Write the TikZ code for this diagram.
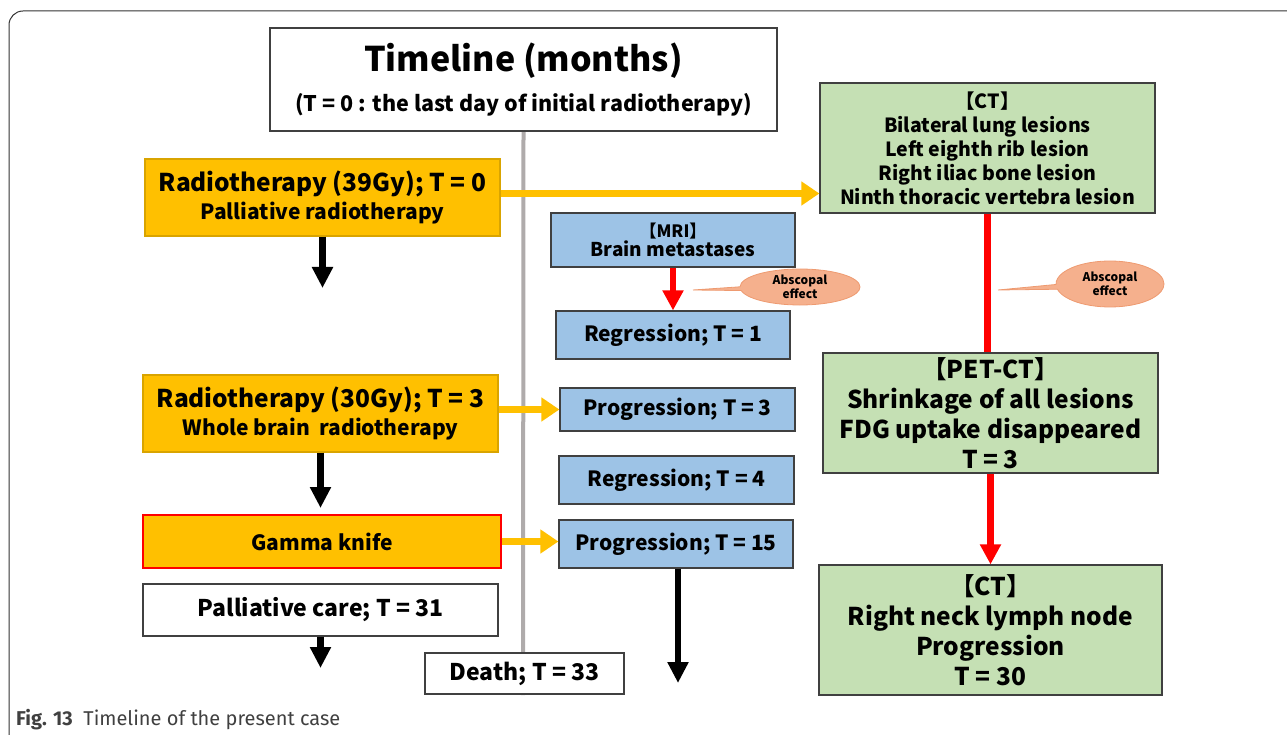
\documentclass[tikz,border=0pt]{standalone}
\usepackage{fontspec}
\setmainfont{Noto Sans CJK JP}
\newfontfamily\capfont{Fira Sans}
\usetikzlibrary{shapes,shapes.callouts,arrows.meta,positioning,backgrounds}

\definecolor{boxorange}{HTML}{FFC000}
\definecolor{boxorangeline}{HTML}{D9A400}
\definecolor{boxblue}{HTML}{9DC3E6}
\definecolor{boxgreen}{HTML}{C5E0B4}
\definecolor{calloutfill}{HTML}{F5B08D}
\definecolor{calloutline}{HTML}{EE9A70}
\definecolor{timegray}{HTML}{AFABAB}

\tikzset{
  box/.style={draw=black!75, line width=1.2pt, rectangle, inner sep=0pt, align=center},
  treatbox/.style={box, fill=boxorange, draw=boxorangeline},
  mribox/.style={box, fill=boxblue},
  ctbox/.style={box, fill=boxgreen},
  blackarrow/.style={line width=6.5pt, -{Triangle[length=21pt,width=20pt]}},
  redarrow/.style={red, line width=6.5pt, -{Triangle[length=20pt,width=20pt]}},
  yellowarrow/.style={boxorange, line width=7pt, -{Triangle[length=18pt,width=23pt]}},
  abscopal/.style={ellipse callout, fill=calloutfill, draw=calloutline, line width=0.8pt,
    inner sep=0pt, align=center, callout pointer arc=12,
    font=\fontsize{12}{14.5}\selectfont\bfseries}
}

\begin{document}
\begin{tikzpicture}[x=1pt,y=-1pt]
\useasboundingbox (0,0) rectangle (1287,735);
% outer frame
\draw[black!80, line width=1pt, rounded corners=14] (9,745) -- (9,11) -- (1300,11);

% title
\node[box, fill=white, minimum width=507, minimum height=103, font=\bfseries] (title) at (523.5,79.5)
  {\fontsize{34}{46}\selectfont Timeline (months)\\[14pt]
   \fontsize{21.5}{26}\selectfont(T = 0 : the last day of initial radiotherapy)};

% treatments (left column)
\node[treatbox, minimum width=355, minimum height=77, font=\bfseries] (rt1) at (322.5,197.5)
  {\fontsize{24.5}{29}\selectfont Radiotherapy (39Gy); T = 0\\[3pt]
   \fontsize{21}{29}\selectfont Palliative radiotherapy};
\node[treatbox, minimum width=355, minimum height=77, font=\bfseries] (rt2) at (320.5,413.5)
  {\fontsize{24.5}{29}\selectfont Radiotherapy (30Gy); T = 3\\[3pt]
   \fontsize{21}{29}\selectfont Whole brain\ \ radiotherapy};
\node[treatbox, draw=red, minimum width=358, minimum height=53, font=\fontsize{21}{26}\selectfont\bfseries] (gamma) at (322,541.5) {Gamma knife};
\node[box, fill=white, minimum width=355, minimum height=52, font=\fontsize{23}{28}\selectfont\bfseries] (pcare) at (320.5,610) {Palliative care; T = 31};
\node[box, fill=white, minimum width=199, minimum height=41, font=\fontsize{23}{28}\selectfont\bfseries] (death) at (524.5,673.5) {Death; T = 33};

% MRI (middle column)
\node[mribox, minimum width=244, minimum height=54, font=\bfseries] (mri) at (673,240)
  {\fontsize{17}{24}\selectfont【MRI】\\[1pt] \fontsize{19}{24}\selectfont Brain metastases};
\node[mribox, minimum width=234, minimum height=48, font=\fontsize{21}{26}\selectfont\bfseries] (reg1) at (673,335) {Regression; T = 1};
\node[mribox, minimum width=235, minimum height=43, font=\fontsize{21}{26}\selectfont\bfseries] (prog3) at (677.5,409.5) {Progression; T = 3};
\node[mribox, minimum width=235, minimum height=48, font=\fontsize{21}{26}\selectfont\bfseries] (reg4) at (676.5,480) {Regression; T = 4};
\node[mribox, minimum width=234, minimum height=48, font=\fontsize{21}{26}\selectfont\bfseries] (prog15) at (676,544) {Progression; T = 15};

% CT / PET-CT (right column)
\node[ctbox, minimum width=335, minimum height=130, font=\fontsize{19.5}{24}\selectfont\bfseries] (ct1) at (987.5,148)
  {【CT】\\Bilateral lung lesions\\Left eighth rib lesion\\Right iliac bone lesion\\Ninth thoracic vertebra lesion};
\node[ctbox, minimum width=335, minimum height=120, font=\fontsize{24.5}{30}\selectfont\bfseries] (pet) at (990.5,413)
  {【PET-CT】\\Shrinkage of all lesions\\FDG uptake disappeared\\T = 3};
\node[ctbox, minimum width=343, minimum height=130, font=\fontsize{24.5}{30}\selectfont\bfseries] (ct2) at (990.5,630)
  {【CT】\\Right neck lymph node\\Progression\\T = 30};

% abscopal callouts
\node[abscopal, minimum width=120, minimum height=36, callout absolute pointer={(693,290)}] (callA) at (800,287) {Abscopal\\effect};
\node[abscopal, minimum width=108, minimum height=46, callout absolute pointer={(998,290)}] (callB) at (1110,284) {Abscopal\\effect};

% free ends of the black arrows
\coordinate (end1) at (322.5,288);
\coordinate (end2) at (320.5,508);
\coordinate (end3) at (320.5,668);
\coordinate (end4) at (678,683);
\coordinate (tlend) at (523,695);

% time axis
\begin{scope}[on background layer]
\draw[timegray, line width=4pt] (title.south) -- (tlend);
\end{scope}

% arrows
\draw[blackarrow] (rt1.south) -- (end1);
\draw[blackarrow] (rt2.south) -- (end2);
\draw[blackarrow] (pcare.south) -- (end3);
\draw[blackarrow] (prog15.south -| end4) -- (end4);
\draw[yellowarrow] ([yshift=4]rt1.east) -- ([yshift=4]rt1.east -| ct1.west);
\draw[yellowarrow] (rt2.east |- prog3.west) -- (prog3.west);
\draw[yellowarrow] (gamma.east) -- (gamma.east -| prog15.west);
\draw[redarrow] (mri.south) -- (reg1.north);
\draw[red, line width=6.5pt] (ct1.south) -- (ct1.south |- pet.north);
\draw[redarrow] (pet.south) -- (ct2.north);

% caption
\node[anchor=base west, inner sep=0pt, font=\capfont\fontsize{20}{22}\selectfont, text=black!75] (caption) at (16,725)
  {\textbf{Fig. 13}\ \ Timeline of the present case};
\end{tikzpicture}
\end{document}
